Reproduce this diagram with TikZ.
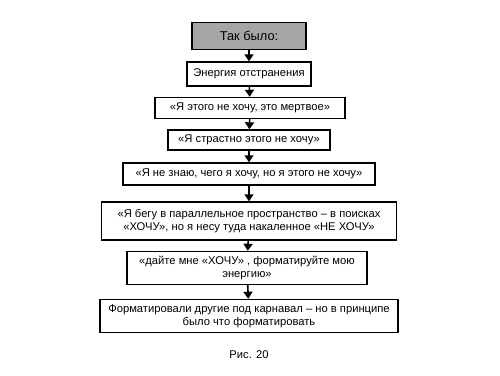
\documentclass[tikz,border=0pt]{standalone}
\usepackage{fontspec}
\setmainfont{Liberation Sans}
\usetikzlibrary{arrows.meta}
\begin{document}
\begin{tikzpicture}[x=1pt, y=-1pt, font=\fontsize{11.2}{13}\selectfont,
    every node/.style={align=center},
    flowbox/.style={draw, line width=1.4pt, fill=white, inner sep=1pt},
    flowarrow/.style={line width=1.6pt, -{Triangle[length=7pt, width=9pt]}}]
  % Canvas
  \useasboundingbox (0,0) rectangle (500,375);

  % Title box
  \node[flowbox, fill=gray!70, minimum width=114pt, minimum height=27pt,
        font=\fontsize{12.8}{15}\selectfont] (title) at (249,36) {Так было:};

  % Steps
  \node[flowbox, minimum width=124pt, minimum height=24pt] (s1) at (249,74) {Энергия отстранения};
  \node[flowbox, minimum width=190pt, minimum height=21pt] (s2) at (250,108) {«Я этого не хочу, это мертвое»};
  \node[flowbox, minimum width=162pt, minimum height=20pt] (s3) at (249,140) {«Я страстно этого не хочу»};
  \node[flowbox, minimum width=252pt, minimum height=22pt] (s4) at (249,174) {«Я не знаю, чего я хочу, но я этого не хочу»};
  \node[flowbox, minimum width=295pt, minimum height=38pt] (s5) at (249,221)
    {«Я бегу в параллельное пространство – в поисках\\«ХОЧУ», но я несу туда накаленное «НЕ ХОЧУ»};
  \node[flowbox, minimum width=240pt, minimum height=33pt] (s6) at (247,268)
    {«дайте мне «ХОЧУ» , форматируйте мою\\энергию»};
  \node[flowbox, minimum width=298pt, minimum height=33pt] (s7) at (249,316)
    {Форматировали другие под карнавал – но в принципе\\было что форматировать};

  % Caption
  \node (caption) at (249,355) {Рис. 20};

  % Arrows
  \draw[flowarrow] (title) -- (s1);
  \draw[flowarrow] (s1) -- (s2);
  \draw[flowarrow] (s2) -- (s3);
  \draw[flowarrow] (s3) -- (s4);
  \draw[flowarrow] (s4) -- (s5);
  \draw[flowarrow] (s5) -- (s6);
  \draw[flowarrow] (s6) -- (s7);
\end{tikzpicture}
\end{document}
